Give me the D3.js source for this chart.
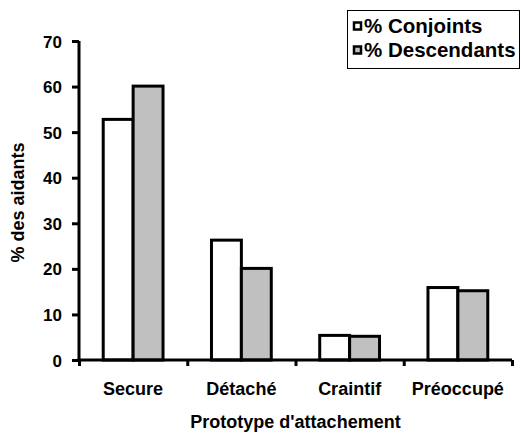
<!DOCTYPE html>
<html><head><meta charset="utf-8">
<script src="https://cdn.jsdelivr.net/npm/d3@7"></script>
<style>body{margin:0;background:#fff}svg{display:block}text{font-family:"Liberation Sans",Arial,sans-serif;font-weight:bold;fill:#000}</style>
</head><body><svg id="c" width="521" height="433"></svg>
<script>
const categories = ["Secure", "Détaché", "Craintif", "Préoccupé"];
const series = ["% Conjoints", "% Descendants"];
const conjoints = [52.8, 26.3, 5.4, 15.9];
const descendants = [60.1, 20.1, 5.2, 15.2];
const yTicks = [0, 10, 20, 30, 40, 50, 60, 70];
const colors = ["#ffffff", "#c0c0c0"];

const svg = d3.select("#c");
const mLeft = 79, mRight = 512, mTop = 41, mBottom = 360;
const y = d3.scaleLinear().domain([0, 70]).range([mBottom, mTop]);
const x0 = d3.scaleBand().domain(categories).range([mLeft, mRight]).padding(0);
const x1 = d3.scaleBand().domain(series).range([0, x0.bandwidth()]).paddingInner(0).paddingOuter(0.81);
const vals = [conjoints, descendants];

// bars
categories.forEach((c, i) => {
  series.forEach((s, j) => {
    svg.append("rect")
      .attr("x", x0(c) + x1(s))
      .attr("y", y(vals[j][i]))
      .attr("width", x1.bandwidth())
      .attr("height", y(0) - y(vals[j][i]))
      .attr("fill", colors[j])
      .attr("stroke", "#000")
      .attr("stroke-width", 3);
  });
});

// y axis
const ya = svg.append("g").attr("transform", `translate(${mLeft},0)`)
  .call(d3.axisLeft(y).tickValues(yTicks).tickSize(7).tickPadding(10).tickFormat(d3.format("d")));
ya.select(".domain").attr("stroke", "#000").attr("stroke-width", 3).attr("d", `M0,${mBottom+1.5}V${mTop}`);
ya.selectAll(".tick line").attr("stroke", "#000").attr("stroke-width", 3);
ya.selectAll(".tick text").style("font-size", "17px").style("font-family", "Liberation Sans, Arial").style("font-weight", "bold").attr("dy", "0.36em");

// x axis
const xb = d3.scaleLinear().domain([0, categories.length]).range([mLeft, mRight]);
const xa = svg.append("g").attr("transform", `translate(0,${mBottom})`)
  .call(d3.axisBottom(xb).tickValues(d3.range(categories.length + 1)).tickSize(6).tickFormat(""));
xa.select(".domain").attr("stroke", "#000").attr("stroke-width", 3).attr("d", `M${mLeft-1.5},0H${mRight}`);
xa.selectAll(".tick line").attr("stroke", "#000").attr("stroke-width", 3);

svg.selectAll(".cat").data(categories).enter().append("text")
  .attr("x", d => x0(d) + x0.bandwidth() / 2)
  .attr("y", 395)
  .attr("text-anchor", "middle")
  .style("font-size", "18px")
  .text(d => d);

svg.append("text").attr("x", (mLeft + mRight) / 2).attr("y", 428)
  .attr("text-anchor", "middle").style("font-size", "18px")
  .text("Prototype d'attachement");

svg.append("text")
  .attr("transform", `translate(24,${(mTop + mBottom) / 2 + 2}) rotate(-90)`)
  .attr("text-anchor", "middle").style("font-size", "18px")
  .text("% des aidants");

// legend
const lg = svg.append("g");
lg.append("rect").attr("x", 347.5).attr("y", 10.5).attr("width", 172).attr("height", 58)
  .attr("fill", "#fff").attr("stroke", "#000").attr("stroke-width", 1);
series.forEach((s, j) => {
  lg.append("rect").attr("x", 354).attr("y", 22.5 + j * 24).attr("width", 7).attr("height", 7)
    .attr("fill", colors[j]).attr("stroke", "#000").attr("stroke-width", 2.5);
  lg.append("text").attr("x", 364).attr("y", 33 + j * 24).style("font-size", "20.5px").text(s);
});
</script></body></html>
